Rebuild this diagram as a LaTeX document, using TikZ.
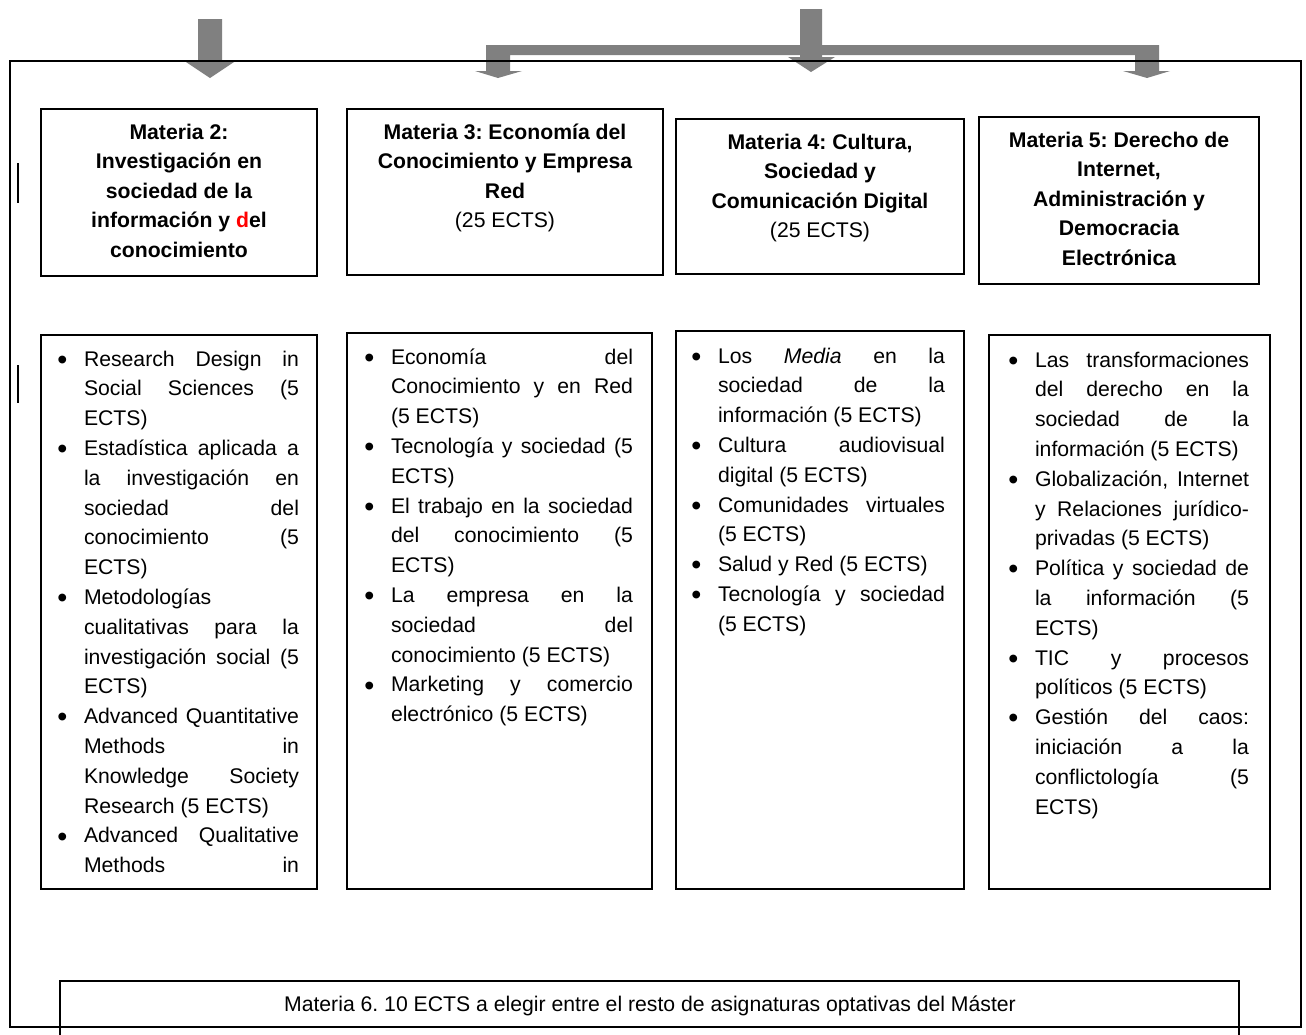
\documentclass[tikz,border=0pt]{standalone}
\usepackage{tikz,amsmath,graphicx}
\usepackage{fontspec}
\setmainfont{Liberation Sans}
\frenchspacing
\definecolor{arrowgray}{HTML}{808080}
\newcommand{\jl}[1]{\makebox[\hsize][s]{#1}}
\newcommand{\bul}{\leavevmode\llap{\raisebox{-3.2pt}{\scalebox{1.35}{\textbullet}}\hspace{16.5pt}}}
\newcommand{\matcol}[2]{\vtop{\hsize=#1\parindent=0pt\parskip=0pt #2}}
\newcommand{\mathead}[2]{\vtop{\hsize=#1\parindent=0pt\parskip=0pt\centering #2}}

\begin{document}
\begin{tikzpicture}[x=1pt,y=1pt]
\tikzstyle{every node}+=[inner sep=0pt, outer sep=0pt]
\tikzstyle{matbox}=[draw=black, line width=1.5pt, anchor=north west]
\tikzstyle{listtext}=[anchor=base west, font=\fontsize{21.2}{29.8}\selectfont]
\tikzstyle{headtext}=[anchor=base, font=\fontsize{21.2}{29.5}\selectfont\bfseries]
\useasboundingbox (0,0) rectangle (1306,-1034);
\clip (0,0) rectangle (1306,-1034);
\fill [arrowgray] (198,-19) -- (222,-19) -- (222,-62) -- (234,-62) -- (210,-78) -- (186,-62) -- (198,-62) -- cycle;
\fill [arrowgray] (486,-45) -- (1159,-45) -- (1159,-71) -- (1170,-71) -- (1147,-78) -- (1123,-71) -- (1135,-71) -- (1135,-55) -- (510,-55) -- (510,-71) -- (522,-71) -- (498,-78) -- (475,-71) -- (486,-71) -- cycle;
\fill [arrowgray] (800,-9) -- (822,-9) -- (822,-57) -- (835,-57) -- (811,-72) -- (788,-57) -- (800,-57) -- cycle;
\node [matbox, line width=1.2pt, minimum width=1291, minimum height=966] (frame) at (10,-61) {};
\draw [black, line width=1.5pt] (18,-163) -- (18,-203);
\draw [black, line width=1.5pt] (18,-365) -- (18,-403);
\node [matbox, minimum width=276, minimum height=167] (m2) at (41,-109) {};
\node [matbox, minimum width=316, minimum height=166] (m3) at (347,-109) {};
\node [matbox, minimum width=288, minimum height=155] (m4) at (676,-119) {};
\node [matbox, minimum width=280, minimum height=167] (m5) at (979,-117) {};
\node [headtext] (m2t) at (179,-139) {\mathead{256pt}{Materia 2:\\ Investigación en\\ sociedad de la\\ información y \textcolor{red}{d}el\\ conocimiento}};
\node [headtext] (m3t) at (505,-139) {\mathead{296pt}{Materia 3: Economía del\\ Conocimiento y Empresa\\ Red\\ \mdseries (25 ECTS)}};
\node [headtext] (m4t) at (820,-149) {\mathead{268pt}{Materia 4: Cultura,\\ Sociedad y\\ Comunicación Digital\\ \mdseries (25 ECTS)}};
\node [headtext] (m5t) at (1119,-147) {\mathead{260pt}{Materia 5: Derecho de\\ Internet,\\ Administración y\\ Democracia\\ Electrónica}};
\node [matbox, minimum width=276, minimum height=554] (c2) at (41,-335) {};
\node [matbox, minimum width=305, minimum height=556] (c3) at (347,-333) {};
\node [matbox, minimum width=288, minimum height=558] (c4) at (676,-331) {};
\node [matbox, minimum width=281, minimum height=554] (c5) at (989,-335) {};
\node [listtext] (c2t) at (84,-366) {\matcol{215pt}{%
\bul\jl{Research Design in}\\ \jl{Social Sciences (5}\\ ECTS)\\
\bul\jl{Estadística aplicada a}\\ \jl{la investigación en}\\ \jl{sociedad del}\\ \jl{conocimiento (5}\\ ECTS)\\
\bul Metodologías\\ \jl{cualitativas para la}\\ \jl{investigación social (5}\\ ECTS)\\
\bul\jl{Advanced Quantitative}\\ \jl{Methods in}\\ \jl{Knowledge Society}\\ Research (5 ECTS)\\
\bul\jl{Advanced Qualitative}\\ \jl{Methods in}}};
\node [listtext] (c3t) at (391,-364) {\matcol{242pt}{%
\bul\jl{Economía del}\\ \jl{Conocimiento y en Red}\\ (5 ECTS)\\
\bul\jl{Tecnología y sociedad (5}\\ ECTS)\\
\bul\jl{El trabajo en la sociedad}\\ \jl{del conocimiento (5}\\ ECTS)\\
\bul\jl{La empresa en la}\\ \jl{sociedad del}\\ conocimiento (5 ECTS)\\
\bul\jl{Marketing y comercio}\\ electrónico (5 ECTS)}};
\node [listtext] (c4t) at (718,-363) {\matcol{227pt}{%
\bul\jl{Los \textit{Media} en la}\\ \jl{sociedad de la}\\ información (5 ECTS)\\
\bul\jl{Cultura audiovisual}\\ digital (5 ECTS)\\
\bul\jl{Comunidades virtuales}\\ (5 ECTS)\\
\bul Salud y Red (5 ECTS)\\
\bul\jl{Tecnología y sociedad}\\ (5 ECTS)}};
\node [listtext] (c5t) at (1035,-367) {\matcol{214pt}{%
\bul\jl{Las transformaciones}\\ \jl{del derecho en la}\\ \jl{sociedad de la}\\ información (5 ECTS)\\
\bul\jl{Globalización, Internet}\\ \jl{y Relaciones jurídico-}\\ privadas (5 ECTS)\\
\bul\jl{Política y sociedad de}\\ \jl{la información (5}\\ ECTS)\\
\bul\jl{TIC y procesos}\\ políticos (5 ECTS)\\
\bul\jl{Gestión del caos:}\\ \jl{iniciación a la}\\ \jl{conflictología (5}\\ ECTS)}};
\node [matbox, minimum width=1179, minimum height=80] (m6) at (60,-981) {};
\node [anchor=base, font=\fontsize{21.2}{29.8}\selectfont] (m6t) at (650,-1011) {Materia 6. 10 ECTS a elegir entre el resto de asignaturas optativas del Máster};
\end{tikzpicture}
\end{document}
